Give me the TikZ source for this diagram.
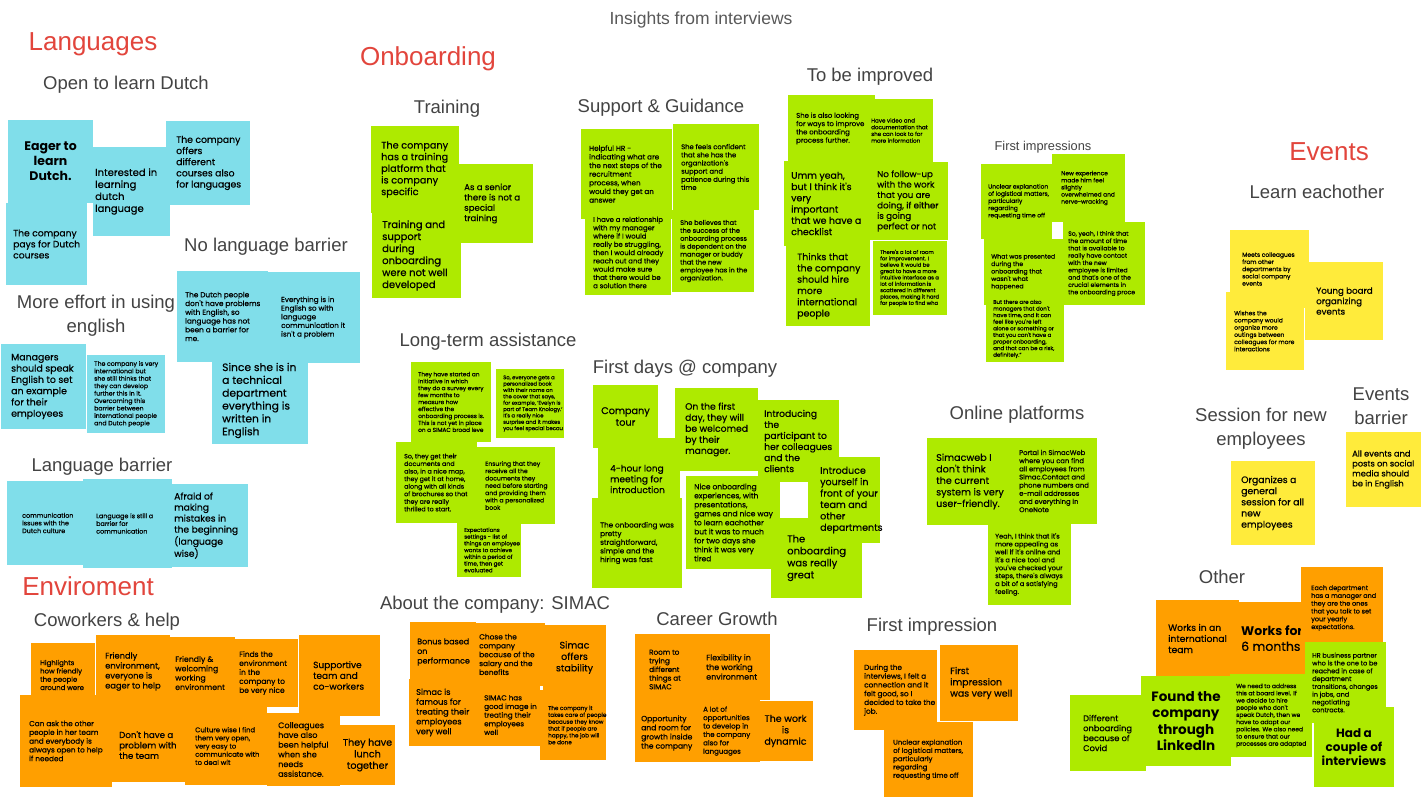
\documentclass[tikz,border=0pt]{standalone}
\usepackage{fontspec}
\newfontfamily\hf{Liberation Sans}
\newfontfamily\nf{Poppins}[FakeBold=0.5]
\newfontfamily\nb{Poppins}
\newcommand\fs[1]{\fontsize{#1pt}{\dimexpr#1pt*6/5\relax}\selectfont}
\definecolor{cy}{HTML}{80DEEA}
\definecolor{lm}{HTML}{AEEA00}
\definecolor{og}{HTML}{FF9F00}
\definecolor{yl}{HTML}{FFEB3B}
\definecolor{hred}{HTML}{E2453C}
\definecolor{hgray}{HTML}{434343}
\definecolor{tgray}{HTML}{595959}
\tikzset{
 box/.style={rectangle,draw=none,inner sep=0pt,outer sep=0pt,anchor=north west},
 txt/.style={anchor=west,align=left,inner sep=0pt,text=black},
 ctxt/.style={anchor=center,align=center,inner sep=0pt,text=black},
 hd/.style={font=\hf\fontsize{18.5pt}{24pt}\selectfont,text=hgray,inner sep=0pt,align=center},
 big/.style={font=\hf\fontsize{26pt}{30pt}\selectfont,text=hred,inner sep=0pt},
}
\newcommand\stk[9]{%
 \node[box,fill=#2,minimum width=#6,minimum height=#7] (#3) at (#4,#5) {};%
 \node[txt,font=\nf\fs{#8}] (#3t) at ([xshift=#1]#3.west) {#9};}
\newcommand\stkc[9]{%
 \node[box,fill=#2,minimum width=#6,minimum height=#7] (#3) at (#4,#5) {};%
 \node[ctxt,font=\nf\fs{#8}#1] (#3t) at (#3.center) {#9};}
\begin{document}
\begin{tikzpicture}[x=1pt,y=-1pt]
\fill[white] (0,0) rectangle (1422,800);
\useasboundingbox (0,0) rectangle (1422,800);
% headings
\node[font=\hf\fontsize{17.5pt}{20pt}\selectfont,text=tgray,inner sep=0pt] (title) at (701,20) {Insights from interviews};
\node[big] (hLang) at (93,44) {Languages};
\node[big] (hOnb) at (428,59) {Onboarding};
\node[big] (hEv) at (1329,152) {Events};
\node[big] (hEnv) at (88,586) {Enviroment};
\node[hd] (sOpen) at (126,85) {Open to learn Dutch};
\node[hd] (sNoLang) at (266,247) {No language barrier};
\node[hd] (sMore) at (96,316) {More effort in using\\english};
\node[hd] (sLangB) at (102,467) {Language barrier};
\node[hd] (sCow) at (107,622) {Coworkers \& help};
\node[hd] (sTrain) at (447,109) {Training};
\node[hd] (sSup) at (661,108) {Support \& Guidance};
\node[hd] (sImp) at (870,77) {To be improved};
\node[font=\hf\fontsize{12.8pt}{15pt}\selectfont,text=hgray,inner sep=0pt] (sFirsts) at (1043,147) {First impressions};
\node[hd] (sLearn) at (1317,192) {Learn eachother};
\node[hd] (sEvB) at (1381,406) {Events\\barrier};
\node[hd] (sSess) at (1261,429) {Session for new\\employees};
\node[hd] (sLong) at (488,342) {Long-term assistance};
\node[hd] (sDays) at (685,369) {First days @ company};
\node[hd] (sOnline) at (1017,415) {Online platforms};
\node[hd] (sOther) at (1222,577) {Other};
\node[hd] (sAbout) at (495,605) {About the company: SIMAC};
\node[hd] (sCareer) at (717,619) {Career Growth};
\node[hd] (sFirst) at (932,627) {First impression};
% Languages
\stk{2}{cy}{interested}{93}{147}{77}{89}{10}{Interested in\\learning\\dutch\\language}
\stkc{\nb\bfseries}{cy}{eager}{8}{120}{85}{83}{12.5}{Eager to\\learn\\Dutch.}
\stk{10}{cy}{offers}{166}{121}{84}{84}{9.3}{The company\\offers\\different\\courses also\\for languages}
\stk{7}{cy}{pays}{6}{203}{81}{82}{9.2}{The company\\pays for Dutch\\courses}
\stk{8}{cy}{dutchppl}{177}{271}{91}{91}{7.3}{The Dutch people\\don't have problems\\with English, so\\language has not\\been a barrier for\\me.}
\stk{13}{cy}{everything}{268}{272}{92}{91}{7.2}{Everything is in\\English so with\\language\\communication it\\isn't a problem}
\stk{10}{cy}{since}{212}{357}{96}{87}{10.7}{Since she is in\\a technical\\department\\everything is\\written in\\English}
\stk{10}{cy}{managers}{1}{344}{85}{85}{9.4}{Managers\\should speak\\English to set\\an example\\for their\\employees}
\stk{7}{cy}{intl}{87}{355}{78}{78}{6.2}{The company is very\\international but\\she still thinks that\\they can develop\\further this in it.\\Overcoming this\\barrier between\\international people\\and Dutch people}
\stk{15}{cy}{comm}{7}{481}{76}{84}{6.4}{communication\\issues with the\\Dutch culture}
\stk{13}{cy}{still}{83}{479}{89}{89}{6.4}{Language is still a\\barrier for\\communication}
\stk{2}{cy}{afraid}{172}{484}{76}{83}{9.2}{Afraid of\\making\\mistakes in\\the beginning\\(language\\wise)}
% Enviroment
\stk{9}{og}{highlights}{31}{643}{64}{64}{6.9}{Highlights\\how friendly\\the people\\around were}
\stk{9}{og}{friendlyenv}{96}{635}{74}{73}{8.3}{Friendly\\environment,\\everyone is\\eager to help}
\stk{5}{og}{welcoming}{170}{637}{65}{72}{7.8}{Friendly \&\\welcoming\\working\\environment}
\stk{4}{og}{finds}{235}{639}{63}{68}{7.5}{Finds the\\environment\\in the\\company to\\be very nice}
\stk{14}{og}{supportive}{299}{635}{81}{81}{9}{Supportive\\team and\\co-workers}
\stk{9}{og}{canask}{20}{695}{92}{92}{7.3}{Can ask the other\\people in her team\\and everybody is\\always open to help\\if needed}
\stk{7}{og}{donthave}{112}{708}{73}{74}{8.7}{Don't have a\\problem with\\the team}
\stk{10}{og}{culture}{185}{707}{82}{78}{6.8}{Culture wise I find\\them very open,\\very easy to\\communicate with\\to deal wit}
\stk{11}{og}{colleagues}{267}{713}{73}{73}{8.1}{Colleagues\\have also\\been helpful\\when she\\needs\\assistance.}
\stkc{}{og}{lunch}{340}{725}{55}{60}{9.6}{They have\\lunch\\together}
% Training / Support
\stk{10}{lm}{platform}{371}{126}{88}{87}{9.7}{The company\\has a training\\platform that\\is company\\specific}
\stk{5}{lm}{senior}{459}{164}{74}{79}{8.6}{As a senior\\there is not a\\special\\training}
\stk{10}{lm}{trainsup}{372}{213}{89}{85}{10}{Training and\\support\\during\\onboarding\\were not well\\developed}
\stk{8}{lm}{hr}{581}{129}{91}{90}{7.2}{Helpful HR -\\indicating what are\\the next steps of the\\recruitment\\process, when\\would they get an\\answer}
\stk{8}{lm}{confident}{673}{124}{86}{86}{6.8}{She feels confident\\that she has the\\organization's\\support and\\patience during this\\time}
\stk{8}{lm}{relation}{585}{210}{86}{85}{6.9}{I have a relationship\\with my manager\\where if I would\\really be struggling,\\then I would already\\reach out and they\\would make sure\\that there would be\\a solution there}
\stk{8}{lm}{believes}{672}{210}{82}{82}{6.6}{She believes that\\the success of the\\onboarding process\\is dependent on the\\manager or buddy\\that the new\\employee has in the\\organization.}
% To be improved
\stk{8}{lm}{looking}{788}{95}{87}{67}{6.9}{She is also looking\\for ways to improve\\the onboarding\\process further.}
\stk{4}{lm}{video}{867}{99}{66}{63}{5.6}{Have video and\\documentation that\\she can look to for\\more information}
\stk{7}{lm}{umm}{784}{161}{86}{85}{9.4}{Umm yeah,\\but I think it's\\very\\important\\that we have a\\checklist}
\stk{7}{lm}{followup}{870}{162}{78}{78}{8.7}{No follow-up\\with the work\\that you are\\doing, if either\\is going\\perfect or not}
\stk{11}{lm}{hire}{786}{246}{84}{80}{9.4}{Thinks that\\the company\\should hire\\more\\international\\people}
\stk{7}{lm}{roomimp}{873}{241}{74}{74}{5.3}{There's a lot of room\\for improvement. I\\believe it would be\\great to have a more\\intuitive interface as a\\lot of information is\\scattered in different\\places, making it hard\\for people to find wha}
% First impressions
\stk{7}{lm}{unclearA}{981}{164}{71}{75}{6}{Unclear explanation\\of logistical matters,\\particularly\\regarding\\requesting time off}
\stk{9}{lm}{newexp}{1052}{154}{73}{68}{5.9}{New experience\\made him feel\\slightly\\overwhelmed and\\nerve-wracking}
\stk{7}{lm}{presented}{984}{239}{79}{66}{6.2}{What was presented\\during the\\onboarding that\\wasn't what\\happened}
\stk{5}{lm}{soyeah}{1063}{222}{82}{83}{6.1}{So, yeah, I think that\\the amount of time\\that is available to\\really have contact\\with the new\\employee is limited\\and that's one of the\\crucial elements in\\the onboarding proce}
\stk{7}{lm}{butthere}{986}{296}{78}{66}{5.5}{But there are also\\managers that don't\\have time, and it can\\feel like you're left\\alone or something or\\that you can't have a\\proper onboarding,\\and that can be a risk,\\definitely.”}
% Events
\stk{12}{yl}{meets}{1230}{230}{79}{78}{6}{Meets colleagues\\from other\\departments by\\social company\\events}
\stk{11}{yl}{young}{1305}{262}{78}{78}{8.7}{Young board\\organizing\\events}
\stk{8}{yl}{wishes}{1226}{292}{78}{78}{6}{Wishes the\\company would\\organize more\\outings between\\colleagues for more\\interactions}
\stk{10}{yl}{organizes}{1231}{461}{84}{84}{9.3}{Organizes a\\general\\session for all\\new\\employees}
\stk{6}{yl}{allevents}{1346}{432}{75}{75}{8.3}{All events and\\posts on social\\media should\\be in English}
% Long-term assistance
\stk{7}{lm}{initiative}{411}{362}{80}{80}{5.8}{They have started an\\initiative in which\\they do a survey every\\few months to\\measure how\\effective the\\onboarding process is.\\This is not yet in place\\on a SIMAC broad leve}
\stk{7}{lm}{book}{496}{369}{68}{69}{5.3}{So, everyone gets a\\personalized book\\with their name on\\the cover that says,\\for example, ‘Evelyn is\\part of Team Knology.’\\It's a really nice\\surprise and it makes\\you feel special becau}
\stk{8}{lm}{documents}{396}{442}{81}{81}{6.3}{So, they get their\\documents and\\also, in a nice map,\\they get it at home,\\along with all kinds\\of brochures so that\\they are really\\thrilled to start.}
\stk{8}{lm}{ensuring}{477}{447}{78}{77}{6.1}{Ensuring that they\\receive all the\\documents they\\need before starting\\and providing them\\with a personalized\\book}
\stk{7}{lm}{expect}{457}{523}{64}{54}{5.6}{Expectations\\settings - list of\\things an employee\\wants to achieve\\within a period of\\time, then get\\evaluated}
% First days
\stk{12}{lm}{fourhour}{598}{438}{82}{82}{9}{4-hour long\\meeting for\\introduction}
\stkc{}{lm}{tour}{593}{385}{65}{63}{9.7}{Company\\tour}
\stk{8}{lm}{straight}{592}{498}{90}{90}{7.2}{The onboarding was\\pretty\\straightforward,\\simple and the\\hiring was fast}
\stk{10}{lm}{firstday}{675}{388}{83}{83}{9.2}{On the first\\day, they will\\be welcomed\\by their\\manager.}
\stk{6}{lm}{introducing}{758}{400}{81}{82}{9.2}{Introducing\\the\\participant to\\her colleagues\\and the\\clients}
\stk{8}{lm}{niceonb}{686}{476}{94}{93}{7.5}{Nice onboarding\\experiences, with\\presentations,\\games and nice way\\to learn eachother\\but it was to much\\for two days she\\think it was very\\tired}
\stk{16}{lm}{great}{771}{518}{91}{80}{10}{The\\onboarding\\was really\\great}
\stk{12}{lm}{yourself}{808}{457}{72}{86}{9.5}{Introduce\\yourself in\\front of your\\team and\\other\\departments}
% Online platforms
\stk{9}{lm}{simacweb}{927}{438}{86}{87}{9.6}{Simacweb I\\don't think\\the current\\system is very\\user-friendly.}
\stk{6}{lm}{portal}{1013}{438}{84}{86}{6.8}{Portal in SimacWeb\\where you can find\\all employees from\\Simac.Contact and\\phone numbers and\\e-mail addresses\\and everything in\\OneNote}
\stk{7}{lm}{yeahonline}{988}{524}{83}{81}{6.6}{Yeah, I think that it's\\more appealing as\\well if it's online and\\it's a nice tool and\\you've checked your\\steps, there's always\\a bit of a satisfying\\feeling.}
% Other
\stk{12}{og}{intlteam}{1156}{600}{83}{77}{9.2}{Works in an\\international\\team}
\stk{9}{og}{worksfor}{1232}{602}{73}{73}{12.5}{\nb\bfseries Works for\\6 months}
\stk{10}{og}{eachdept}{1301}{567}{82}{82}{6.5}{Each department\\has a manager and\\they are the ones\\that you talk to set\\your yearly\\expectations.}
\stk{13}{lm}{covid}{1070}{695}{76}{76}{8.3}{Different\\onboarding\\because of\\Covid}
\stkc{\nb\bfseries}{lm}{linkedin}{1141}{676}{90}{90}{13.5}{Found the\\company\\through\\LinkedIn}
\stk{6}{lm}{board}{1230}{674}{82}{83}{6}{We need to address\\this at board level. If\\we decide to hire\\people who don't\\speak Dutch, then we\\have to adapt our\\policies. We also need\\to ensure that our\\processes are adapted}
\stkc{\nb\bfseries}{lm}{interviews}{1314}{707}{80}{80}{12}{Had a\\couple of\\interviews}
\stk{7}{lm}{hrpartner}{1305}{642}{81}{81}{6.5}{HR business partner\\who is the one to be\\reached in case of\\department\\transitions, changes\\in jobs, and\\negotiating\\contracts.}
% About the company
\stk{7}{og}{bonus}{410}{622}{66}{60}{8}{Bonus based\\on\\performance}
\stk{4}{og}{chose}{475}{623}{70}{63}{7.4}{Chose the\\company\\because of the\\salary and the\\benefits}
\stkc{}{og}{stability}{543}{625}{63}{65}{9.5}{Simac\\offers\\stability}
\stk{7}{og}{famous}{409}{679}{69}{67}{8.2}{Simac is\\famous for\\treating their\\employees\\very well}
\stk{6}{og}{goodimage}{478}{684}{62}{62}{7.2}{SIMAC has\\good image in\\treating their\\employees\\well}
\stk{8}{og}{takescare}{540}{690}{66}{70}{5.7}{The company it\\takes care of people\\because they know\\that if people are\\happy, the job will\\be done}
% Career growth
\stk{14}{og}{trying}{635}{634}{65}{71}{7.2}{Room to\\trying\\different\\things at\\SIMAC}
\stk{7}{og}{flex}{699}{634}{71}{66}{8}{Flexibility in\\the working\\environment}
\stk{6}{og}{opport}{635}{704}{65}{58}{7.6}{Opportunity\\and room for\\growth inside\\the company}
\stk{6}{og}{alot}{697}{700}{63}{62}{7}{A lot of\\opportunities\\to develop in\\the company\\also for\\languages}
\stkc{}{og}{dynamic}{758}{701}{55}{60}{9.5}{The work\\is\\dynamic}
% First impression
\stk{10}{og}{during}{854}{650}{83}{80}{7.3}{During the\\interviews, I felt a\\connection and it\\felt good, so I\\decided to take the\\job.}
\stk{10}{og}{firstimp}{940}{645}{78}{76}{9.4}{First\\impression\\was very well}
\stk{9}{og}{unclearB}{884}{722}{89}{75}{6.9}{Unclear explanation\\of logistical matters,\\particularly\\regarding\\requesting time off}
\end{tikzpicture}
\end{document}
